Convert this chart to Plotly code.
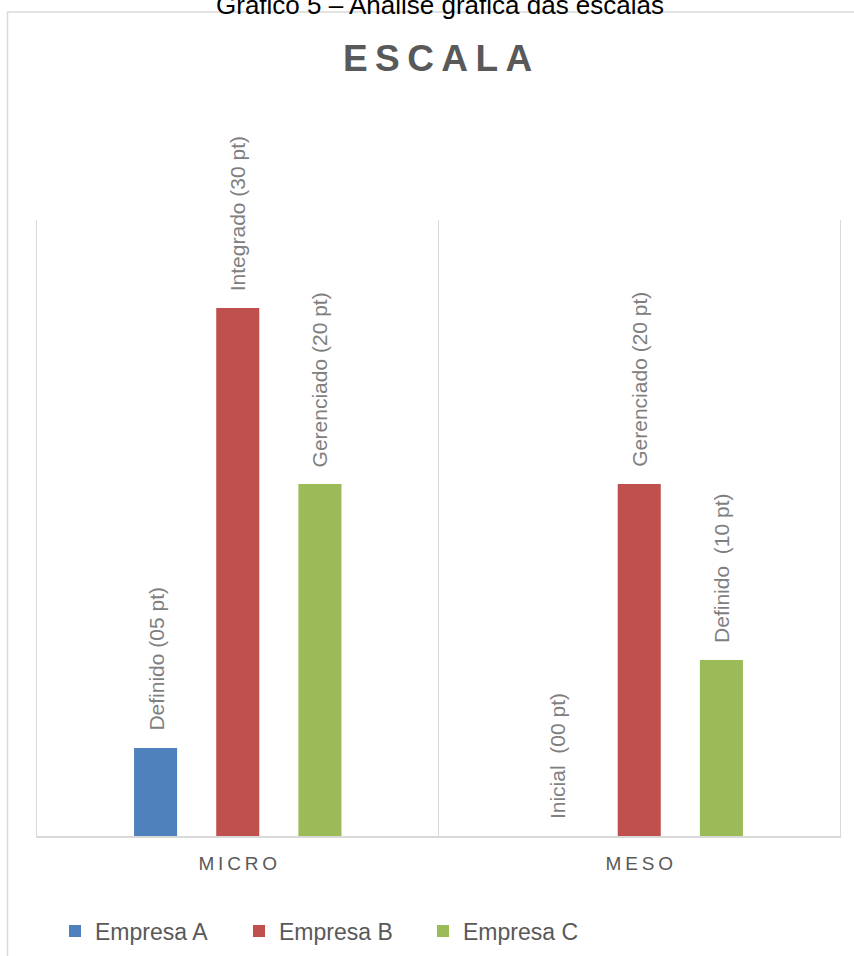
import plotly.graph_objects as go

# Scores per scale level for each company
categories = ["MICRO", "MESO"]
tick_labels = ["M\u2009I\u2009C\u2009R\u2009O", "M\u2009E\u2009S\u2009O"]
series_names = ["Empresa A", "Empresa B", "Empresa C"]
empresa_a = [5, 0]
empresa_b = [30, 20]
empresa_c = [20, 10]
labels_a = ["Definido (05 pt)", "Inicial \u00a0(00 pt)"]
labels_b = ["Integrado (30 pt)", "Gerenciado (20 pt)"]
labels_c = ["Gerenciado (20 pt)", "Definido \u00a0(10 pt)"]
colors = ["#4f81bd", "#c0504d", "#9bbb59"]

values = [empresa_a, empresa_b, empresa_c]
labels = [labels_a, labels_b, labels_c]

W, H = 854, 956
L, R, T, B = 37, 14, 220, 120
PW, PH = W - L - R, H - T - B
FONT = "Liberation Sans, Arial, sans-serif"


def px_x(px):
    return (px - L) / PW


def px_y(py):
    return (H - B - py) / PH


fig = go.Figure()
for name, vals, col in zip(series_names, values, colors):
    fig.add_trace(go.Bar(x=categories, y=vals, name=name, marker_color=col,
                         marker_line_width=0))

BARGAP, GROUPGAP = 0.386, 0.476
slot = PW / len(categories) * (1 - BARGAP) / len(series_names)

annotations = []
for i, (vals, labs) in enumerate(zip(values, labels)):
    for cat, v, lab in zip(categories, vals, labs):
        annotations.append(dict(
            x=cat, y=v, xref="x", yref="y", text=lab, showarrow=False,
            textangle=-90, xanchor="center", yanchor="bottom",
            xshift=(i - 1) * slot, yshift=15,
            font=dict(family=FONT, size=21, color="#7f7f7f")))

annotations.append(dict(
    x=px_x(437), y=px_y(58), xref="paper", yref="paper",
    text="<b>E\u2009S\u2009C\u2009A\u2009L\u2009A</b>", showarrow=False,
    xanchor="center", yanchor="middle",
    font=dict(family=FONT, size=37, color="#595959")))
annotations.append(dict(
    x=px_x(440), y=px_y(22), xref="paper", yref="paper",
    text="Gráfico 5 – Análise gráfica das escalas", showarrow=False,
    xanchor="center", yanchor="bottom",
    font=dict(family=FONT, size=26, color="#000000")))

fig.update_layout(
    width=W, height=H,
    margin=dict(l=L, r=R, t=T, b=B, autoexpand=False),
    paper_bgcolor="white", plot_bgcolor="white",
    barmode="group", bargap=BARGAP, bargroupgap=GROUPGAP,
    showlegend=True,
    legend=dict(orientation="h", x=px_x(55), y=px_y(931),
                xanchor="left", yanchor="middle",
                font=dict(family=FONT, size=23, color="#595959"),
                entrywidth=139, entrywidthmode="pixels",
                itemwidth=30, traceorder="normal"),
    annotations=annotations,
    shapes=[dict(type="rect", xref="paper", yref="paper",
                 x0=px_x(7.5), x1=px_x(870), y0=px_y(990), y1=px_y(12),
                 line=dict(color="#d9d9d9", width=1.5), layer="below")],
)
fig.update_xaxes(
    type="category", range=[-0.5, 1.5], automargin=False,
    tickmode="array", tickvals=categories, ticktext=tick_labels,
    tickson="boundaries", ticks="",
    showgrid=True, gridcolor="#d9d9d9", gridwidth=1,
    showline=True, linecolor="#d9d9d9", linewidth=2,
    tickfont=dict(family=FONT, size=19, color="#595959"),
    ticklabelstandoff=9, fixedrange=True)
fig.update_yaxes(range=[0, 35], automargin=False, showticklabels=False,
                 ticks="", showgrid=False, zeroline=False,
                 showline=True, mirror=True, linecolor="#d9d9d9",
                 linewidth=1, fixedrange=True)

fig.write_html("out.html", config={"displayModeBar": False})
